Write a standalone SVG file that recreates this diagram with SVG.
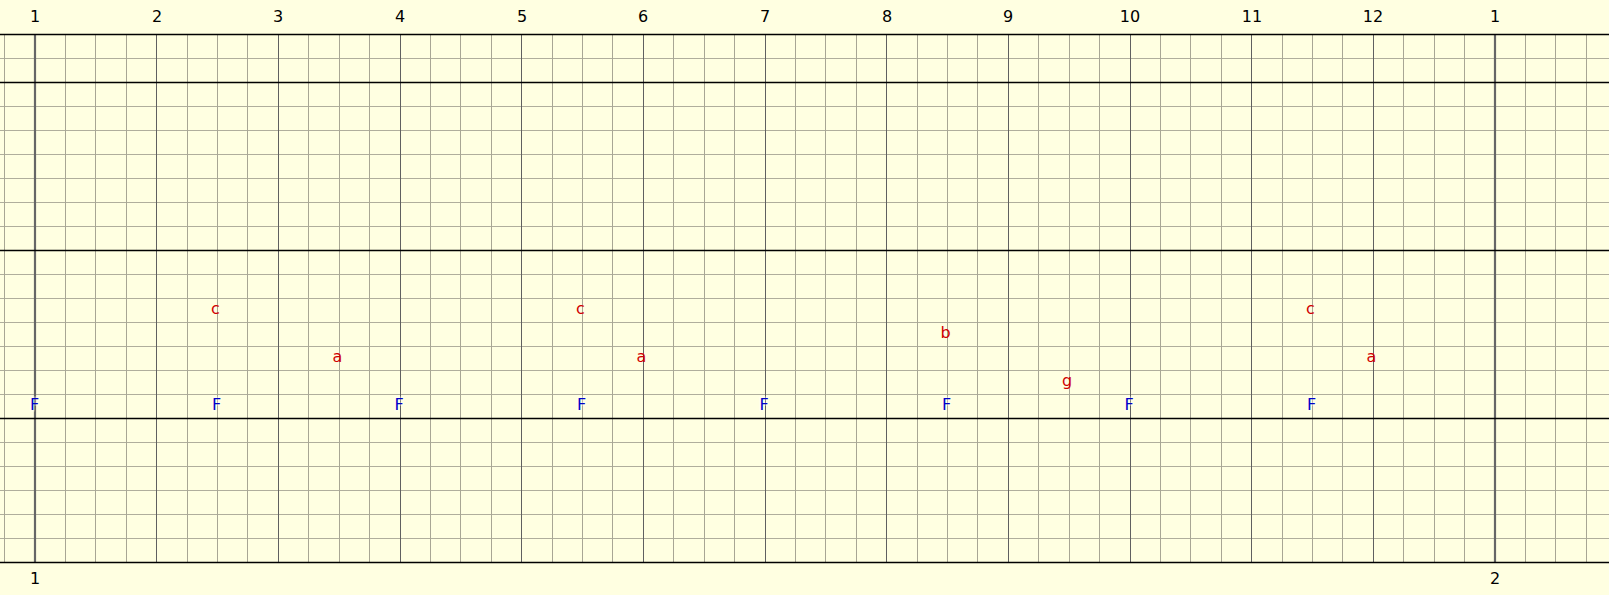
<svg xmlns="http://www.w3.org/2000/svg" width="1609" height="595" viewBox="0 0 1609 595">
<style>
.bg{fill:#ffffe1}
.hmin{stroke:#b0ae9c;stroke-width:1}
.hmaj{stroke:#000;stroke-width:1.3}
.vmin{stroke:#a8a694;stroke-width:1}
.vbeat{stroke:#606060;stroke-width:1}
.vbar{stroke:#666;stroke-width:2.2}
.num{font-family:"DejaVu Sans",Verdana,sans-serif;font-size:16px;fill:#000;text-anchor:middle}
.red{font-family:"DejaVu Sans",Verdana,sans-serif;font-size:16px;fill:#d00000;text-anchor:middle}
.blue{font-family:"DejaVu Sans",Verdana,sans-serif;font-size:16px;fill:#0000c8;text-anchor:middle;stroke:#ffffff;stroke-opacity:0.35;stroke-width:3;paint-order:stroke}
</style>
<rect class="bg" x="0" y="0" width="1609" height="595"/>
<g id="h-lines">
<line class="hmin" x1="0" y1="58.5" x2="1609" y2="58.5"/>
<line class="hmin" x1="0" y1="106.5" x2="1609" y2="106.5"/>
<line class="hmin" x1="0" y1="130.5" x2="1609" y2="130.5"/>
<line class="hmin" x1="0" y1="154.5" x2="1609" y2="154.5"/>
<line class="hmin" x1="0" y1="178.5" x2="1609" y2="178.5"/>
<line class="hmin" x1="0" y1="202.5" x2="1609" y2="202.5"/>
<line class="hmin" x1="0" y1="226.5" x2="1609" y2="226.5"/>
<line class="hmin" x1="0" y1="274.5" x2="1609" y2="274.5"/>
<line class="hmin" x1="0" y1="298.5" x2="1609" y2="298.5"/>
<line class="hmin" x1="0" y1="322.5" x2="1609" y2="322.5"/>
<line class="hmin" x1="0" y1="346.5" x2="1609" y2="346.5"/>
<line class="hmin" x1="0" y1="370.5" x2="1609" y2="370.5"/>
<line class="hmin" x1="0" y1="394.5" x2="1609" y2="394.5"/>
<line class="hmin" x1="0" y1="442.5" x2="1609" y2="442.5"/>
<line class="hmin" x1="0" y1="466.5" x2="1609" y2="466.5"/>
<line class="hmin" x1="0" y1="490.5" x2="1609" y2="490.5"/>
<line class="hmin" x1="0" y1="514.5" x2="1609" y2="514.5"/>
<line class="hmin" x1="0" y1="538.5" x2="1609" y2="538.5"/>
</g>
<g id="v-lines">
<line class="vmin" x1="4.5" y1="34" x2="4.5" y2="562"/>
<line class="vmin" x1="65.5" y1="34" x2="65.5" y2="562"/>
<line class="vmin" x1="95.5" y1="34" x2="95.5" y2="562"/>
<line class="vmin" x1="126.5" y1="34" x2="126.5" y2="562"/>
<line class="vbeat" x1="156.5" y1="34" x2="156.5" y2="562"/>
<line class="vmin" x1="187.5" y1="34" x2="187.5" y2="562"/>
<line class="vmin" x1="217.5" y1="34" x2="217.5" y2="562"/>
<line class="vmin" x1="247.5" y1="34" x2="247.5" y2="562"/>
<line class="vbeat" x1="278.5" y1="34" x2="278.5" y2="562"/>
<line class="vmin" x1="308.5" y1="34" x2="308.5" y2="562"/>
<line class="vmin" x1="339.5" y1="34" x2="339.5" y2="562"/>
<line class="vmin" x1="369.5" y1="34" x2="369.5" y2="562"/>
<line class="vbeat" x1="400.5" y1="34" x2="400.5" y2="562"/>
<line class="vmin" x1="430.5" y1="34" x2="430.5" y2="562"/>
<line class="vmin" x1="460.5" y1="34" x2="460.5" y2="562"/>
<line class="vmin" x1="491.5" y1="34" x2="491.5" y2="562"/>
<line class="vbeat" x1="521.5" y1="34" x2="521.5" y2="562"/>
<line class="vmin" x1="552.5" y1="34" x2="552.5" y2="562"/>
<line class="vmin" x1="582.5" y1="34" x2="582.5" y2="562"/>
<line class="vmin" x1="612.5" y1="34" x2="612.5" y2="562"/>
<line class="vbeat" x1="643.5" y1="34" x2="643.5" y2="562"/>
<line class="vmin" x1="673.5" y1="34" x2="673.5" y2="562"/>
<line class="vmin" x1="704.5" y1="34" x2="704.5" y2="562"/>
<line class="vmin" x1="734.5" y1="34" x2="734.5" y2="562"/>
<line class="vbeat" x1="765.5" y1="34" x2="765.5" y2="562"/>
<line class="vmin" x1="795.5" y1="34" x2="795.5" y2="562"/>
<line class="vmin" x1="825.5" y1="34" x2="825.5" y2="562"/>
<line class="vmin" x1="856.5" y1="34" x2="856.5" y2="562"/>
<line class="vbeat" x1="886.5" y1="34" x2="886.5" y2="562"/>
<line class="vmin" x1="917.5" y1="34" x2="917.5" y2="562"/>
<line class="vmin" x1="947.5" y1="34" x2="947.5" y2="562"/>
<line class="vmin" x1="977.5" y1="34" x2="977.5" y2="562"/>
<line class="vbeat" x1="1008.5" y1="34" x2="1008.5" y2="562"/>
<line class="vmin" x1="1038.5" y1="34" x2="1038.5" y2="562"/>
<line class="vmin" x1="1069.5" y1="34" x2="1069.5" y2="562"/>
<line class="vmin" x1="1099.5" y1="34" x2="1099.5" y2="562"/>
<line class="vbeat" x1="1130.5" y1="34" x2="1130.5" y2="562"/>
<line class="vmin" x1="1160.5" y1="34" x2="1160.5" y2="562"/>
<line class="vmin" x1="1190.5" y1="34" x2="1190.5" y2="562"/>
<line class="vmin" x1="1221.5" y1="34" x2="1221.5" y2="562"/>
<line class="vbeat" x1="1251.5" y1="34" x2="1251.5" y2="562"/>
<line class="vmin" x1="1282.5" y1="34" x2="1282.5" y2="562"/>
<line class="vmin" x1="1312.5" y1="34" x2="1312.5" y2="562"/>
<line class="vmin" x1="1342.5" y1="34" x2="1342.5" y2="562"/>
<line class="vbeat" x1="1373.5" y1="34" x2="1373.5" y2="562"/>
<line class="vmin" x1="1403.5" y1="34" x2="1403.5" y2="562"/>
<line class="vmin" x1="1434.5" y1="34" x2="1434.5" y2="562"/>
<line class="vmin" x1="1464.5" y1="34" x2="1464.5" y2="562"/>
<line class="vmin" x1="1525.5" y1="34" x2="1525.5" y2="562"/>
<line class="vmin" x1="1555.5" y1="34" x2="1555.5" y2="562"/>
<line class="vmin" x1="1586.5" y1="34" x2="1586.5" y2="562"/>
<line class="vbar" x1="35" y1="34" x2="35" y2="562"/>
<line class="vbar" x1="1495" y1="34" x2="1495" y2="562"/>
</g>
<g id="major-h-lines">
<line class="hmaj" x1="0" y1="34.5" x2="1609" y2="34.5"/>
<line class="hmaj" x1="0" y1="82.5" x2="1609" y2="82.5"/>
<line class="hmaj" x1="0" y1="250.5" x2="1609" y2="250.5"/>
<line class="hmaj" x1="0" y1="418.5" x2="1609" y2="418.5"/>
<line class="hmaj" x1="0" y1="562.5" x2="1609" y2="562.5"/>
</g>
<g id="beat-numbers">
<text class="num" x="35" y="22">1</text>
<text class="num" x="157" y="22">2</text>
<text class="num" x="278" y="22">3</text>
<text class="num" x="400" y="22">4</text>
<text class="num" x="522" y="22">5</text>
<text class="num" x="643" y="22">6</text>
<text class="num" x="765" y="22">7</text>
<text class="num" x="887" y="22">8</text>
<text class="num" x="1008" y="22">9</text>
<text class="num" x="1130" y="22">10</text>
<text class="num" x="1252" y="22">11</text>
<text class="num" x="1373" y="22">12</text>
<text class="num" x="1495" y="22">1</text>
</g>
<g id="measure-numbers">
<text class="num" x="35" y="584">1</text>
<text class="num" x="1495" y="584">2</text>
</g>
<g id="red-notes">
<text class="red" x="215.5" y="314">c</text>
<text class="red" x="337.5" y="362">a</text>
<text class="red" x="580.5" y="314">c</text>
<text class="red" x="641.5" y="362">a</text>
<text class="red" x="945.5" y="338">b</text>
<text class="red" x="1067" y="386">g</text>
<text class="red" x="1310.5" y="314">c</text>
<text class="red" x="1371.5" y="362">a</text>
</g>
<g id="blue-F">
<text class="blue" x="34.5" y="410">F</text>
<text class="blue" x="216.5" y="410">F</text>
<text class="blue" x="399" y="410">F</text>
<text class="blue" x="581.5" y="410">F</text>
<text class="blue" x="764" y="410">F</text>
<text class="blue" x="946.5" y="410">F</text>
<text class="blue" x="1129" y="410">F</text>
<text class="blue" x="1311.5" y="410">F</text>
</g>
</svg>
